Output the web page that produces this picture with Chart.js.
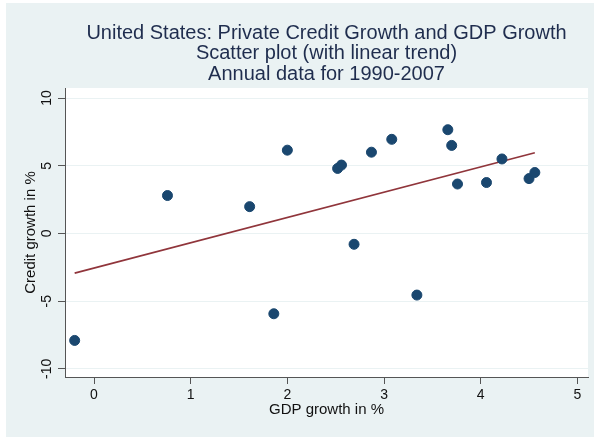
<!DOCTYPE html>
<html>
<head>
<meta charset="utf-8">
<script src="https://cdn.jsdelivr.net/npm/chart.js@4.4.0/dist/chart.umd.min.js"></script>
<style>
  html, body { margin: 0; padding: 0; background: #ffffff; }
  #wrap { width: 594px; height: 438px; }
</style>
</head>
<body>
<div id="wrap"><canvas id="scatter" width="594" height="438"></canvas></div>
<script>
// GDP growth (x) vs private credit growth (y), one point per year 1990-2007
var gdpGrowth    = [-0.20, 0.76, 1.61, 2.00, 1.86, 2.52, 2.56, 2.87, 3.08, 3.66, 3.70, 3.76, 4.06, 4.22, 4.50, 4.56, 2.69, 3.34];
var creditGrowth = [-7.90, 2.80, 1.98, 6.15, -5.93, 4.80, 5.05, 6.00, 6.95, 7.66, 6.50, 3.65, 3.76, 5.50, 4.05, 4.50, -0.80, -4.55];

// fitted linear trend, read at its two ends
var trendX = [-0.20, 4.56];
var trendY = [-2.93, 5.96];

var xTicks = [0, 1, 2, 3, 4, 5];
var yTicks = [-10, -5, 0, 5, 10];

var navy = '#1a476f';
var maroon = '#90353b';
var bgBlue = '#eaf2f3';
var textDark = '#111111';

var points = gdpGrowth.map(function(x, i) { return {x: x, y: creditGrowth[i]}; });
var trend = trendX.map(function(x, i) { return {x: x, y: trendY[i]}; });

var backdrop = {
    id: 'backdrop',
    beforeDraw: function(chart) {
        var c = chart.ctx, a = chart.chartArea;
        c.save();
        c.fillStyle = '#ffffff';
        c.fillRect(0, 0, chart.width, chart.height);
        c.fillStyle = bgBlue;
        c.fillRect(6, 3, chart.width - 6, chart.height - 4);
        c.fillStyle = '#ffffff';
        c.fillRect(a.left, a.top, a.right - a.left, a.bottom - a.top);
        c.restore();
    }
};

Chart.defaults.font.family = '"Liberation Sans", Arial, Helvetica, sans-serif';

new Chart(document.getElementById('scatter').getContext('2d'), {
    type: 'scatter',
    data: {
        datasets: [{
            label: 'Credit growth',
            data: points,
            backgroundColor: navy,
            borderColor: navy,
            pointRadius: 5,
            pointHoverRadius: 5,
            order: 1
        }, {
            type: 'line',
            label: 'Linear trend',
            data: trend,
            borderColor: maroon,
            borderWidth: 1.6,
            pointRadius: 0,
            fill: false,
            order: 2
        }]
    },
    options: {
        responsive: false,
        animation: false,
        devicePixelRatio: 1,
        layout: { padding: { left: 0, right: 6, top: 0, bottom: 0 } },
        plugins: {
            legend: { display: false },
            tooltip: { enabled: false },
            title: {
                display: true,
                fullSize: false,
                text: ['United States: Private Credit Growth and GDP Growth',
                       'Scatter plot (with linear trend)',
                       'Annual data for 1990-2007'],
                color: '#1f2d4e',
                font: { size: 20, weight: 'normal', lineHeight: 1.03 },
                padding: { top: 22.7, bottom: 3.5 }
            }
        },
        scales: {
            x: {
                type: 'linear',
                min: -0.30,
                max: 5.11,
                afterFit: function(s) { s.height = 61; },
                afterBuildTicks: function(s) { s.ticks = xTicks.map(function(v) { return {value: v}; }); },
                border: { display: true, color: '#555555', width: 1 },
                grid: { drawOnChartArea: false, drawTicks: true, tickLength: 7, tickColor: '#555555' },
                ticks: { color: textDark, font: { size: 14 }, padding: 3, maxRotation: 0 },
                title: { display: true, text: 'GDP growth in %', color: textDark, font: { size: 15 }, padding: { top: 0, bottom: 19 } }
            },
            y: {
                type: 'linear',
                min: -10.6,
                max: 10.74,
                afterFit: function(s) { s.width = 65; },
                afterBuildTicks: function(s) { s.ticks = yTicks.map(function(v) { return {value: v}; }); },
                border: { display: true, color: '#555555', width: 1 },
                grid: { color: bgBlue, lineWidth: 1, drawTicks: true, tickLength: 7, tickColor: '#555555' },
                ticks: { color: textDark, font: { size: 14 }, padding: 1, minRotation: 90, maxRotation: 90, crossAlign: 'center' },
                title: { display: true, text: 'Credit growth in %', color: textDark, font: { size: 15 }, padding: { top: 22, bottom: 0 } }
            }
        }
    },
    plugins: [backdrop]
});
</script>
</body>
</html>
